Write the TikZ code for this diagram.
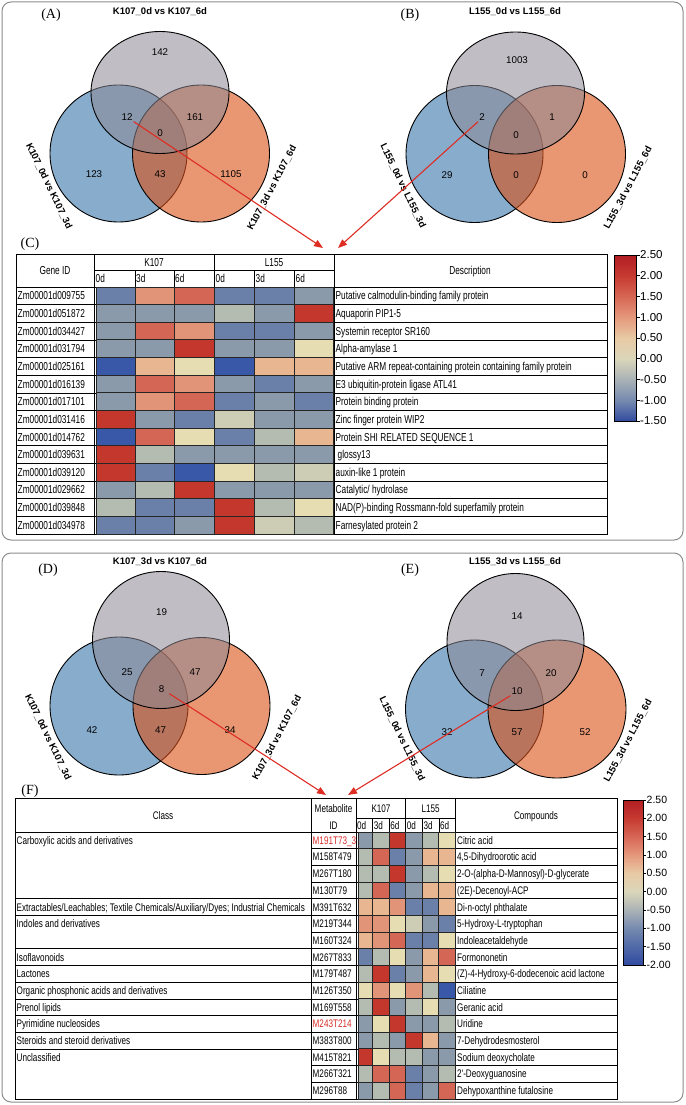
\documentclass[tikz,border=0pt]{standalone}
\usepackage{fontspec}
\usetikzlibrary{arrows.meta}
\newfontfamily\arialf{Liberation Sans}
\newfontfamily\timesf{Liberation Serif}
\newfontfamily\narrowf[FakeStretch=0.72]{Liberation Sans}
\newfontfamily\narrowff[FakeStretch=0.74]{Liberation Sans}
\definecolor{panelgray}{RGB}{140,140,140}
\definecolor{vblue}{RGB}{136,172,204}
\definecolor{vorange}{RGB}{218,80,22}
\definecolor{vgray}{RGB}{140,137,148}
\definecolor{arrowred}{RGB}{222,45,35}
\definecolor{idred}{RGB}{215,45,40}
\definecolor{hR}{RGB}{196,55,45}
\definecolor{hr}{RGB}{212,102,85}
\definecolor{hs}{RGB}{225,148,120}
\definecolor{hp}{RGB}{232,182,145}
\definecolor{hy}{RGB}{230,222,178}
\definecolor{hz}{RGB}{205,205,182}
\definecolor{hg}{RGB}{180,188,178}
\definecolor{hq}{RGB}{138,154,170}
\definecolor{hb}{RGB}{106,128,168}
\definecolor{hB}{RGB}{58,88,168}
\definecolor{c1}{RGB}{178,30,35}
\definecolor{c2}{RGB}{198,58,50}
\definecolor{c3}{RGB}{214,102,85}
\definecolor{c4}{RGB}{229,152,124}
\definecolor{c5}{RGB}{232,202,165}
\definecolor{c6}{RGB}{218,214,186}
\definecolor{c7}{RGB}{170,178,182}
\definecolor{c8}{RGB}{118,138,175}
\definecolor{c9}{RGB}{80,105,168}
\definecolor{c10}{RGB}{50,75,160}
\tikzset{
  panelbox/.style={draw=panelgray, line width=1pt, rounded corners=9pt},
  plabel/.style={font=\timesf\fontsize{14}{14}\selectfont, inner sep=0},
  vtitle/.style={font=\arialf\bfseries\fontsize{9.5}{9.5}\selectfont, inner sep=1pt},
  vnum/.style={font=\arialf\fontsize{9.8}{9.8}\selectfont, inner sep=1pt},
  vset/.style={draw=black, line width=0.9pt},
  ctxt/.style={font=\narrowf\fontsize{11.5}{11.5}\selectfont, inner sep=0, anchor=base west},
  ctxtc/.style={font=\narrowf\fontsize{11.5}{11.5}\selectfont, inner sep=0, anchor=base},
  ftxt/.style={font=\narrowff\fontsize{11}{11}\selectfont, inner sep=0, anchor=base west},
  ftxtc/.style={font=\narrowff\fontsize{11}{11}\selectfont, inner sep=0, anchor=base},
  grid/.style={draw=black, line width=0.7pt},
  heat/.style={draw=black!85, line width=1pt},
  redarrow/.style={draw=arrowred, line width=1.1pt, -{Triangle[length=9pt,width=7pt]}},
  cblab/.style={font=\arialf\fontsize{11.5}{11.5}\selectfont, inner sep=0, anchor=west},
  cblabf/.style={font=\arialf\fontsize{10.5}{10.5}\selectfont, inner sep=0, anchor=west}
}
\newcommand\crow[9]{%
  \pgfmathsetmacro\yt{287+(#1-1)*17.643}%
  \pgfmathsetmacro\yb{\yt+17.643}%
  \pgfmathsetmacro\ybase{\yt+12.9}%
  \draw[grid] (16,\yb) -- (607,\yb);
  \node[ctxt] (gid#1) at (17.5,\ybase) {#2};
  \node[ctxt] (desc#1) at (335.5,\ybase) {#3};
  \foreach \c/\xa/\xbb in {#4/96.5/135,#5/135/174,#6/174/214,#7/214/254,#8/254/294,#9/294/333.5}
    {\filldraw[heat,fill=\c] (\xa,\yt) rectangle (\xbb,\yb);}
}
\newcommand\frow[9]{%
  \pgfmathsetmacro\yt{832+(#1-1)*16.6875}%
  \pgfmathsetmacro\yb{\yt+16.6875}%
  \pgfmathsetmacro\ybase{\yt+12.3}%
  \draw[grid] (311,\yb) -- (617,\yb);
  \node[ftxt] (mid#1) at (312.5,\ybase) {#2};
  \node[ftxt] (cmp#1) at (457,\ybase) {#3};
  \foreach \c/\xa/\xbb in {#4/358/372.6,#5/372.6/389.2,#6/389.2/405.7,#7/405.7/422.3,#8/422.3/438.9,#9/438.9/455.5}
    {\filldraw[heat,fill=\c] (\xa,\yt) rectangle (\xbb,\yb);}
}
\begin{document}
\begin{tikzpicture}[x=1pt,y=-1pt]
\useasboundingbox (0,0) rectangle (685,1105);
\draw[panelbox] (2,2) rectangle (683,540);
\draw[panelbox] (2,553) rectangle (683,1102);

% ---------- Venn A ----------
\filldraw[vset, fill=vblue] (118.5,153.5) circle (68.5pt);
\filldraw[vset, fill=vorange, fill opacity=0.6] (201,153.5) circle (68.5pt);
\filldraw[vset, fill=vgray, fill opacity=0.55] (160,92.5) ellipse (69pt and 61pt);
\node[plabel] (labA) at (51,15) {(A)};
\node[vtitle] (tA) at (160,12) {K107\_0d vs K107\_6d};
\node[vtitle, rotate=-64] (lA) at (49,186) {K107\_0d vs K107\_3d};
\node[vtitle, rotate=62] (rA) at (272,188) {K107\_3d vs K107\_6d};
\node[vnum] (nA1) at (160,52) {142};
\node[vnum] (nA2) at (127,117) {12};
\node[vnum] (nA3) at (195,117) {161};
\node[vnum] (nA4) at (160,133) {0};
\node[vnum] (nA5) at (94,174) {123};
\node[vnum] (nA6) at (160,174) {43};
\node[vnum] (nA7) at (231,174) {1105};

% ---------- Venn B ----------
\filldraw[vset, fill=vblue] (474.5,154) circle (68.5pt);
\filldraw[vset, fill=vorange, fill opacity=0.6] (557,154) circle (68.5pt);
\filldraw[vset, fill=vgray, fill opacity=0.55] (515.5,93) ellipse (69pt and 61pt);
\node[plabel] (labB) at (410,15) {(B)};
\node[vtitle] (tB) at (515,12) {L155\_0d vs L155\_6d};
\node[vtitle, rotate=-64] (lB) at (403,186) {L155\_0d vs L155\_3d};
\node[vtitle, rotate=62] (rB) at (628,188) {L155\_3d vs L155\_6d};
\node[vnum] (nB1) at (517,60) {1003};
\node[vnum] (nB2) at (482,117) {2};
\node[vnum] (nB3) at (552,117) {1};
\node[vnum] (nB4) at (516,135) {0};
\node[vnum] (nB5) at (447,175) {29};
\node[vnum] (nB6) at (516,175) {0};
\node[vnum] (nB7) at (585,175) {0};

% ---------- Table C ----------
\node[plabel] (labC) at (30,244) {(C)};
\draw[grid] (16,254) rectangle (607,534);
\draw[grid] (94,254) -- (94,534);
\draw[grid] (334,254) -- (334,534);
\draw[grid] (214,254) -- (214,287);
\draw[grid] (94,270) -- (334,270);
\foreach \x in {135,174,254,294} \draw[grid] (\x,270) -- (\x,287);
\draw[grid] (16,287) -- (607,287);
\node[ctxtc] (hGene) at (55,274.3) {Gene ID};
\node[ctxtc] (hK1) at (154,266.2) {K107};
\node[ctxtc] (hL1) at (274,266.2) {L155};
\foreach \x/\t [count=\i] in {95.5/0d,136/3d,175/6d,215.5/0d,255.5/3d,295.5/6d}
  \node[ctxt] (hC\i) at (\x,282.6) {\t};
\node[ctxtc] (hDesc) at (470,274.3) {Description};
\crow{1}{Zm00001d009755}{Putative calmodulin-binding family protein}{hb}{hs}{hr}{hb}{hb}{hq}
\crow{2}{Zm00001d051872}{Aquaporin PIP1-5}{hq}{hq}{hq}{hg}{hq}{hR}
\crow{3}{Zm00001d034427}{Systemin receptor SR160}{hq}{hr}{hs}{hb}{hb}{hq}
\crow{4}{Zm00001d031794}{Alpha-amylase 1}{hq}{hq}{hR}{hq}{hq}{hy}
\crow{5}{Zm00001d025161}{Putative ARM repeat-containing protein containing family protein}{hB}{hp}{hy}{hB}{hp}{hp}
\crow{6}{Zm00001d016139}{E3 ubiquitin-protein ligase ATL41}{hq}{hr}{hs}{hq}{hb}{hq}
\crow{7}{Zm00001d017101}{Protein binding protein}{hq}{hs}{hr}{hb}{hq}{hb}
\crow{8}{Zm00001d031416}{Zinc finger protein WIP2}{hR}{hq}{hb}{hz}{hq}{hq}
\crow{9}{Zm00001d014762}{Protein SHI RELATED SEQUENCE 1}{hB}{hr}{hy}{hb}{hg}{hp}
\crow{10}{Zm00001d039631}{\hspace{2pt}glossy13}{hR}{hg}{hq}{hq}{hq}{hq}
\crow{11}{Zm00001d039120}{auxin-like 1 protein}{hR}{hb}{hB}{hy}{hg}{hz}
\crow{12}{Zm00001d029662}{Catalytic/ hydrolase}{hq}{hg}{hR}{hq}{hq}{hq}
\crow{13}{Zm00001d039848}{NAD(P)-binding Rossmann-fold superfamily protein}{hg}{hb}{hb}{hR}{hg}{hy}
\crow{14}{Zm00001d034978}{Farnesylated protein 2}{hb}{hb}{hq}{hR}{hz}{hg}

% colour bar C
\foreach \ya/\yb/\ca/\cb in {255/275.75/c1/c2,275.75/296.5/c2/c3,296.5/317.25/c3/c4,317.25/338/c4/c5,338/358.75/c5/c6,358.75/379.5/c6/c7,379.5/400.25/c7/c8,400.25/421/c8/c10}
  \shade[top color=\ca, bottom color=\cb] (614,\ya) rectangle (636,\yb);
\draw[line width=0.7pt] (614,255) rectangle (636,421);
\foreach \t [count=\i from 0] in {2.50,2.00,1.50,1.00,0.50,0.00,-0.50,-1.00,-1.50}{
  \draw[line width=0.6pt] (636,{255+20.75*\i}) -- (639.5,{255+20.75*\i});
  \node[cblab] (cbC\i) at (640,{255+20.75*\i}) {\t};
}

% arrows to C
\draw[redarrow] (nA2.south east) -- (323,248);
\draw[redarrow] (nB2.south west) -- (338,248);

% ---------- Venn D ----------
\filldraw[vset, fill=vblue] (119,706) circle (69pt);
\filldraw[vset, fill=vorange, fill opacity=0.6] (201.5,706) circle (68.5pt);
\filldraw[vset, fill=vgray, fill opacity=0.55] (161,640) circle (68.5pt);
\node[plabel] (labD) at (48,570) {(D)};
\node[vtitle] (tD) at (160,562) {K107\_3d vs K107\_6d};
\node[vtitle, rotate=-64] (lD) at (48,737) {K107\_0d vs K107\_3d};
\node[vtitle, rotate=62] (rD) at (277,738) {K107\_3d vs K107\_6d};
\node[vnum] (nD1) at (161.5,612) {19};
\node[vnum] (nD2) at (127,672) {25};
\node[vnum] (nD3) at (195,672) {47};
\node[vnum] (nD4) at (161.5,689) {8};
\node[vnum] (nD5) at (92,730) {42};
\node[vnum] (nD6) at (160.5,730) {47};
\node[vnum] (nD7) at (230,730) {34};

% ---------- Venn E ----------
\filldraw[vset, fill=vblue] (474.5,709) circle (69pt);
\filldraw[vset, fill=vorange, fill opacity=0.6] (557,709) circle (69pt);
\filldraw[vset, fill=vgray, fill opacity=0.55] (515.5,642) circle (68.5pt);
\node[plabel] (labE) at (410,570) {(E)};
\node[vtitle] (tE) at (515,562) {L155\_3d vs L155\_6d};
\node[vtitle, rotate=-64] (lE) at (402,739) {L155\_0d vs L155\_3d};
\node[vtitle, rotate=62] (rE) at (628,741) {L155\_3d vs L155\_6d};
\node[vnum] (nE1) at (517,616) {14};
\node[vnum] (nE2) at (482,673) {7};
\node[vnum] (nE3) at (551,673) {20};
\node[vnum] (nE4) at (517,691) {10};
\node[vnum] (nE5) at (447,732) {32};
\node[vnum] (nE6) at (517,732) {57};
\node[vnum] (nE7) at (585,732) {52};

% ---------- Table F ----------
\node[plabel] (labF) at (30,791) {(F)};
\draw[grid] (15,798) rectangle (617,1099);
\foreach \x in {311,356,455.5} \draw[grid] (\x,798) -- (\x,1099);
\draw[grid] (405.7,798) -- (405.7,832);
\draw[grid] (356,818) -- (455.5,818);
\foreach \x in {372.6,389.2,422.3,438.9} \draw[grid] (\x,818) -- (\x,832);
\draw[grid] (15,832) -- (617,832);
\node[ftxtc] (hClass) at (163,819) {Class};
\node[ftxtc] (hMet) at (333.5,812) {Metabolite};
\node[ftxtc] (hID) at (333.5,829) {ID};
\node[ftxtc] (hK2) at (381,812) {K107};
\node[ftxtc] (hL2) at (430.6,812) {L155};
\foreach \x/\t [count=\i] in {357/0d,373.6/3d,390.2/6d,406.7/0d,423.3/3d,439.9/6d}
  \node[ftxt] (hF\i) at (\x,829) {\t};
\node[ftxtc] (hComp) at (536,819) {Compounds};
\frow{1}{\textcolor{idred}{M191T73\_3}}{Citric acid}{hq}{hg}{hR}{hq}{hg}{hy}
\frow{2}{M158T479}{4,5-Dihydroorotic acid}{hg}{hr}{hb}{hq}{hp}{hp}
\frow{3}{M267T180}{2-O-(alpha-D-Mannosyl)-D-glycerate}{hg}{hg}{hR}{hq}{hg}{hy}
\frow{4}{M130T79}{(2E)-Decenoyl-ACP}{hg}{hr}{hb}{hq}{hp}{hp}
\frow{5}{M391T632}{Di-n-octyl phthalate}{hp}{hp}{hs}{hb}{hb}{hp}
\frow{6}{M219T344}{5-Hydroxy-L-tryptophan}{hs}{hs}{hy}{hz}{hq}{hb}
\frow{7}{M160T324}{Indoleacetaldehyde}{hp}{hs}{hr}{hb}{hb}{hy}
\frow{8}{M267T833}{Formononetin}{hb}{hg}{hy}{hq}{hp}{hr}
\frow{9}{M179T487}{(Z)-4-Hydroxy-6-dodecenoic acid lactone}{hg}{hR}{hb}{hq}{hp}{hy}
\frow{10}{M126T350}{Ciliatine}{hy}{hs}{hy}{hs}{hg}{hB}
\frow{11}{M169T558}{Geranic acid}{hg}{hR}{hq}{hg}{hy}{hq}
\frow{12}{\textcolor{idred}{M243T214}}{Uridine}{hq}{hy}{hR}{hq}{hq}{hg}
\frow{13}{M383T800}{7-Dehydrodesmosterol}{hq}{hg}{hq}{hR}{hp}{hq}
\frow{14}{M415T821}{Sodium deoxycholate}{hR}{hy}{hg}{hg}{hq}{hq}
\frow{15}{M266T321}{2'-Deoxyguanosine}{hg}{hr}{hr}{hb}{hq}{hg}
\frow{16}{M296T88}{Dehypoxanthine futalosine}{hq}{hg}{hr}{hb}{hq}{hr}
% class groups
\foreach \r in {4,5,7,8,9,10,11,12,13}
  \draw[grid] (15,{832+\r*16.6875}) -- (311,{832+\r*16.6875});
\node[ftxt] (cls1) at (16.5,{832+12.3}) {Carboxylic acids and derivatives};
\node[ftxt] (cls2) at (16.5,{832+4*16.6875+12.3}) {Extractables/Leachables; Textile Chemicals/Auxiliary/Dyes; Industrial Chemicals};
\node[ftxt] (cls3) at (16.5,{832+5*16.6875+12.3}) {Indoles and derivatives};
\node[ftxt] (cls4) at (16.5,{832+7*16.6875+12.3}) {Isoflavonoids};
\node[ftxt] (cls5) at (16.5,{832+8*16.6875+12.3}) {Lactones};
\node[ftxt] (cls6) at (16.5,{832+9*16.6875+12.3}) {Organic phosphonic acids and derivatives};
\node[ftxt] (cls7) at (16.5,{832+10*16.6875+12.3}) {Prenol lipids};
\node[ftxt] (cls8) at (16.5,{832+11*16.6875+12.3}) {Pyrimidine nucleosides};
\node[ftxt] (cls9) at (16.5,{832+12*16.6875+12.3}) {Steroids and steroid derivatives};
\node[ftxt] (cls10) at (16.5,{832+13*16.6875+12.3}) {Unclassified};

% colour bar F
\foreach \ya/\yb/\ca/\cb in {800/818.33/c1/c2,818.33/836.67/c2/c3,836.67/855/c3/c4,855/873.33/c4/c5,873.33/891.67/c5/c6,891.67/910/c6/c7,910/928.33/c7/c8,928.33/946.67/c8/c9,946.67/965/c9/c10}
  \shade[top color=\ca, bottom color=\cb] (623,\ya) rectangle (643,\yb);
\draw[line width=0.7pt] (623,800) rectangle (643,965);
\foreach \t [count=\i from 0] in {2.50,2.00,1.50,1.00,0.50,0.00,-0.50,-1.00,-1.50,-2.00}{
  \draw[line width=0.6pt] (643,{800+18.333*\i}) -- (646,{800+18.333*\i});
  \node[cblabf] (cbF\i) at (646.5,{800+18.333*\i}) {\t};
}

% arrows to F
\draw[redarrow] ([xshift=4pt]nD4.south east) -- (326,795);
\draw[redarrow] (nE4.south west) -- (348,795);
\end{tikzpicture}
\end{document}
